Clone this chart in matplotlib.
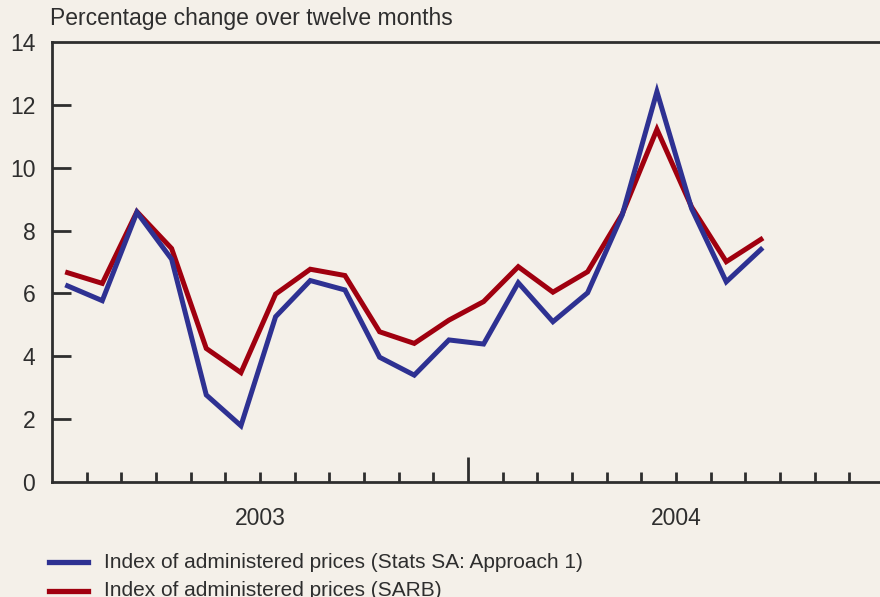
import matplotlib
matplotlib.use("Agg")
import matplotlib.pyplot as plt
import numpy as np

plt.rcParams['font.family'] = ['Liberation Sans', 'DejaVu Sans']

# Data: monthly, Jan 2003 - Sep 2004
months = ["2003-01", "2003-02", "2003-03", "2003-04", "2003-05", "2003-06",
          "2003-07", "2003-08", "2003-09", "2003-10", "2003-11", "2003-12",
          "2004-01", "2004-02", "2004-03", "2004-04", "2004-05", "2004-06",
          "2004-07", "2004-08", "2004-09"]
stats_sa = [6.24, 5.77, 8.58, 7.09, 2.77, 1.79, 5.26, 6.41, 6.11, 3.97, 3.40, 4.52,
            4.39, 6.34, 5.10, 6.02, 8.50, 12.42, 8.70, 6.37, 7.40]
sarb = [6.66, 6.32, 8.60, 7.43, 4.25, 3.48, 5.98, 6.77, 6.57, 4.78, 4.41, 5.15,
        5.74, 6.85, 6.04, 6.69, 8.53, 11.22, 8.75, 7.01, 7.72]
years = ["2003", "2004"]
yticks = [0, 2, 4, 6, 8, 10, 12, 14]
series_labels = ["Index of administered prices (Stats SA: Approach 1)",
                 "Index of administered prices (SARB)"]

bg = "#F4F0E9"
blue = "#2E3192"
red = "#A0000F"
ink = "#2E2E2E"

W, H = 880, 597
fig = plt.figure(figsize=(W / 100, H / 100), dpi=100, facecolor=bg)
left, right, top, bottom = 52, 884, 42, 482
ax = fig.add_axes([left / W, 1 - bottom / H, (right - left) / W, (bottom - top) / H])
ax.set_facecolor(bg)

x = np.arange(len(months)) + 0.45
ax.plot(x, sarb, color=red, lw=3.6, solid_joinstyle='miter', zorder=3)
ax.plot(x, stats_sa, color=blue, lw=3.6, solid_joinstyle='miter', zorder=4)

ax.set_xlim(0, 24)
ax.set_ylim(0, 14)

for s in ['left', 'bottom', 'top']:
    ax.spines[s].set_color(ink)
    ax.spines[s].set_linewidth(2.0)
ax.spines['right'].set_visible(False)

ax.set_yticks(yticks)
ax.set_yticklabels([str(v) for v in yticks])
ax.tick_params(axis='y', direction='in', length=14, width=2.0, color=ink,
               labelsize=16.5, labelcolor=ink, pad=12)
ax.yaxis.get_major_ticks()[0].tick1line.set_visible(False)
ax.yaxis.get_major_ticks()[-1].tick1line.set_visible(False)

ax.set_xticks([12])
ax.set_xticklabels([])
ax.set_xticks([m for m in range(1, 24) if m != 12], minor=True)
ax.tick_params(axis='x', which='major', direction='in', length=18, width=2.0, color=ink)
ax.tick_params(axis='x', which='minor', direction='in', length=7.5, width=2.0, color=ink)

for i, yr in enumerate(years):
    ax.text(6 + 12 * i, -1.15, yr, ha='center', va='center', fontsize=16.5,
            color=ink, clip_on=False)

fig.text(50 / W, 1 - 19 / H, "Percentage change over twelve months",
         ha='left', va='center', fontsize=16.5, color=ink)

# Legend
for j, (lab, col) in enumerate(zip(series_labels, [blue, red])):
    yy = 1 - (562 + 28.5 * j) / H
    fig.add_artist(plt.Line2D([49 / W, 88 / W], [yy, yy], color=col, lw=3.8,
                              transform=fig.transFigure))
    fig.text(104 / W, yy, lab, ha='left', va='center', fontsize=15, color=ink)

fig.savefig("out.png", dpi=100, facecolor=bg)
